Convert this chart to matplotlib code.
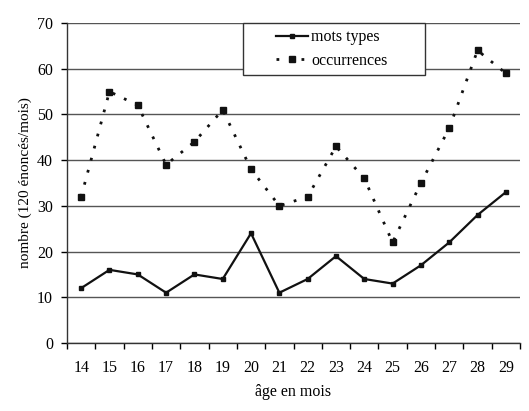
import matplotlib.pyplot as plt
from matplotlib.patches import Rectangle
import numpy as np

plt.rcParams['font.family'] = ['Liberation Serif', 'DejaVu Serif']

ages = ['14', '15', '16', '17', '18', '19', '20', '21', '22', '23', '24', '25', '26', '27', '28', '29']
mots_types = [12, 16, 15, 11, 15, 14, 24, 11, 14, 19, 14, 13, 17, 22, 28, 33]
occurrences = [32, 55, 52, 39, 44, 51, 38, 30, 32, 43, 36, 22, 35, 47, 64, 59]

fig = plt.figure(figsize=(5.29, 4.11), dpi=100)
ax = fig.add_axes([67 / 529, 1 - 343 / 411, 453 / 529, 320 / 411])

x = np.arange(len(ages))
ax.plot(x, mots_types, color='#111111', lw=1.6, marker='s', ms=3.5,
        label='mots types', zorder=3)
ax.plot(x, occurrences, color='#111111', lw=2, ls=(0, (1, 3.5)), marker='s',
        ms=4.5, label='occurrences', zorder=3)

ax.set_xlim(-0.5, len(ages) - 0.5)
ax.set_ylim(0, 70)
ax.set_yticks(range(0, 71, 10))
ax.set_xticks(x)
ax.set_xticklabels(ages)
ax.set_xticks(np.arange(-0.5, len(ages), 1), minor=True)
ax.tick_params(axis='x', which='major', length=0, pad=12, labelsize=11.5)
ax.tick_params(axis='x', which='minor', length=4, direction='out', width=1)
ax.tick_params(axis='y', length=4, width=1, labelsize=11.5, pad=6)

ax.grid(axis='y', color='#555555', lw=1)
ax.set_axisbelow(True)
for s in ['top', 'right']:
    ax.spines[s].set_visible(False)
for s in ['left', 'bottom']:
    ax.spines[s].set_color('#333333')
    ax.spines[s].set_linewidth(1)

ax.set_ylabel('nombre (120 énoncés/mois)', fontsize=11, labelpad=4)
ax.set_xlabel('âge en mois', fontsize=11.5, labelpad=6)

# legend box drawn separately so the entries sit centred inside it
ax.add_patch(Rectangle((0.389, 0.8375), 0.401, 0.1625, transform=ax.transAxes,
                       fill=True, facecolor='white', edgecolor='#333333',
                       lw=1, zorder=4, clip_on=False))
leg = ax.legend(loc='center', bbox_to_anchor=(0.585, 0.919), frameon=False,
                fontsize=11.5, handlelength=2.0, handletextpad=0.2,
                labelspacing=0.45, borderpad=0)
leg.set_zorder(5)

fig.savefig('out.png', dpi=100)
